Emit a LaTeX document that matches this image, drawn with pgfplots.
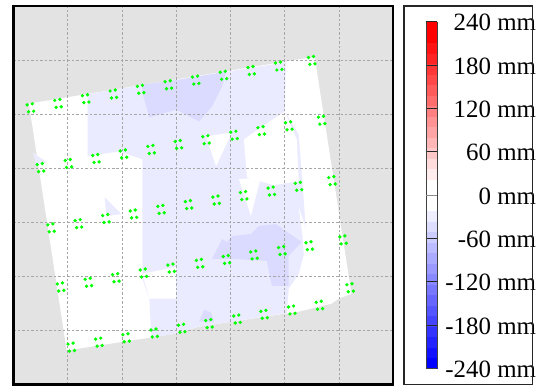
\documentclass[border=0pt]{standalone}
\usepackage{pgfplots}
\pgfplotsset{compat=1.18}
\usepackage{fontspec}
\setmainfont{Liberation Serif}
\definecolor{bg}{RGB}{227,227,227}
\definecolor{lavA}{RGB}{235,235,255}
\definecolor{lavB}{RGB}{219,219,255}
\definecolor{dotg}{RGB}{0,255,0}
\pgfdeclareplotmark{quad}{%
  \pgfpathcircle{\pgfpoint{-3.2pt}{3.1pt}}{1.85pt}%
  \pgfpathcircle{\pgfpoint{1.9pt}{4.1pt}}{1.85pt}%
  \pgfpathcircle{\pgfpoint{-1.8pt}{-3.9pt}}{1.85pt}%
  \pgfpathcircle{\pgfpoint{3.3pt}{-3.3pt}}{1.85pt}%
  \pgfusepathqfill}
\begin{document}
\begin{tikzpicture}
\begin{axis}[
  at={(13.5pt,2pt)}, anchor=south west,
  width=381.5pt, height=380pt, scale only axis,
  xmin=13.5, xmax=395, ymin=2, ymax=382,
  xtick={68,122.5,177,231.5,286,340.5},
  ytick={56.3,110.6,164.9,219.2,273.5,327.8},
  xticklabels={}, yticklabels={},
  major tick length=0pt,
  grid=major,
  major grid style={black!35, dash pattern=on 2.5pt off 2pt, line width=0.6pt},
  axis line style={line width=2.4pt},
  set layers,
  colormap access=piecewise constant,
  colormap={bwr}{rgb255=(0,0,255) rgb255=(17,17,255) rgb255=(34,34,255) rgb255=(51,51,255)
    rgb255=(68,68,255) rgb255=(85,85,255) rgb255=(102,102,255) rgb255=(119,119,255)
    rgb255=(136,136,255) rgb255=(153,153,255) rgb255=(170,170,255) rgb255=(187,187,255)
    rgb255=(204,204,255) rgb255=(221,221,255) rgb255=(238,238,255) rgb255=(255,255,255)
    rgb255=(255,255,255) rgb255=(255,255,255) rgb255=(255,237,237) rgb255=(255,219,219)
    rgb255=(255,200,200) rgb255=(255,182,182) rgb255=(255,164,164) rgb255=(255,146,146)
    rgb255=(255,128,128) rgb255=(255,109,109) rgb255=(255,91,91) rgb255=(255,73,73)
    rgb255=(255,55,55) rgb255=(255,36,36) rgb255=(255,18,18) rgb255=(255,0,0)
    rgb255=(255,0,0)},
  point meta min=-240, point meta max=240,
  colorbar,
  colorbar style={
    at={(parent axis.north east)}, anchor=north west,
    xshift=24.3pt, yshift=-15.7pt,
    width=11.4pt, height=348.4pt, scale only axis,
    ytick={-240,-180,-120,-60,60,120,180,240},
    yticklabels={-240 mm,-180 mm,-120 mm,-60 mm,60 mm,120 mm,180 mm,240 mm},
    extra y ticks={0}, extra y tick labels={0 mm},
    extra y tick style={major tick style={black!45, line width=1pt}},
    ytick pos=left, yticklabel pos=right,
    tick align=inside, major tick length=11.4pt,
    major tick style={black!85, line width=0.9pt},
    yticklabel style={font=\fontsize{25}{27}\selectfont, anchor=east, inner sep=0pt, xshift=99.3pt, yshift=-1pt},
    axis line style={black!75, line width=0.8pt},
  },
]
% plot background
\addplot[fill=bg, draw=none, on layer=axis background] coordinates {(13.5,2) (395,2) (395,382) (13.5,382)} -- cycle;
% white surveyed area
\addplot[fill=white, draw=none, on layer=axis background] coordinates {
  (29,284) (316,331) (353,93) (340,88) (333,83) (300,75) (200,60) (177,53) (67,36)} -- cycle;
% light lavender (-15 to -30 mm)
\addplot[fill=lavA, draw=none, on layer=axis background] coordinates {
  (88,293.5) (287,325.5) (286,276) (300,253) (305,188) (308,143) (300,113) (290,98) (288,73.5)
  (200,60) (177,53) (152,49) (150,88) (143,108) (143,228) (120,236) (88,231)} -- cycle;
\addplot[fill=lavA, draw=none, on layer=axis background] coordinates {(33,235) (47,225) (36,223)} -- cycle;
\addplot[fill=lavA, draw=none, on layer=axis background] coordinates {(105,190) (122,173) (107,171)} -- cycle;
% white gaps
\addplot[fill=white, draw=none, on layer=axis background] coordinates {(240,208) (262,210) (252,171)} -- cycle;
\addplot[fill=white, draw=none, on layer=axis background] coordinates {(143,113) (177,120) (177,88) (150,88)} -- cycle;
\addplot[fill=white, draw=none, on layer=axis background] coordinates {(245,248) (262,260) (286,276) (298,248) (300,206) (275,202) (248,210)} -- cycle;
\addplot[fill=white, draw=none, on layer=axis background] coordinates {(207,251) (233,255) (217,221)} -- cycle;
\addplot[fill=white, draw=none, on layer=axis background] coordinates {(300,180) (310,150) (318,128) (322,120) (306,120) (304,150)} -- cycle;
% darker lavender (-30 to -45 mm)
\addplot[fill=lavB, draw=none, on layer=axis background] coordinates {
  (143,303) (180,308) (227,316) (223,301) (213,281) (200,266) (177,278) (150,270) (143,295)} -- cycle;
\addplot[fill=lavB, draw=none, on layer=axis background] coordinates {
  (213,128) (223,148) (228,145) (233,151) (252,153) (260,161) (277,163) (303,145) (290,131)
  (290,101) (273,101) (268,126) (233,128)} -- cycle;
\addplot[fill=lavB, draw=none, on layer=axis background] coordinates {(200,65) (205,77) (212,74) (215,65)} -- cycle;
% survey points
\addplot[only marks, mark=quad, color=dotg] coordinates {
  (30.5,279.6) (58.2,284.1) (86,288.8) (113.8,293.5) (141.2,298.2) (169,302.8) (196.5,307.5) (224.4,312.3) (252.2,317.1) (279.9,321.6) (313,327.2)
  (40.6,219.6) (68.7,223.7) (96.3,228.7) (124,233.3) (151.7,237.8) (179.2,242.8) (206.9,247.6) (235,252.1) (262.3,256.7) (290,261.6) (323,267.2)
  (51.2,159.1) (78.7,163.3) (106.3,168.4) (134,173) (161.7,177.6) (189.3,182.4) (217,187) (244.7,191.5) (272.5,196) (299.8,200.8) (333.4,206.5)
  (60.8,99.7) (88.7,104.4) (116.3,109) (144,113.7) (171.8,118.7) (200.4,123.4) (227.4,127.3) (255,131.9) (283,136.3) (310.5,141.1) (344.5,147)
  (71.5,39.3) (99.3,44.3) (126.6,48.7) (154.8,53.5) (182.5,58.2) (209.8,62.9) (238,67.5) (265.2,72.2) (293,76.6) (320.7,81.3) (351.6,98.9)
};
\end{axis}
\draw[line width=1.6pt, black!85] (405.8pt,2pt) rectangle (534.8pt,382pt);
\path (0,0) rectangle (536pt,388pt);
\end{tikzpicture}
\end{document}
